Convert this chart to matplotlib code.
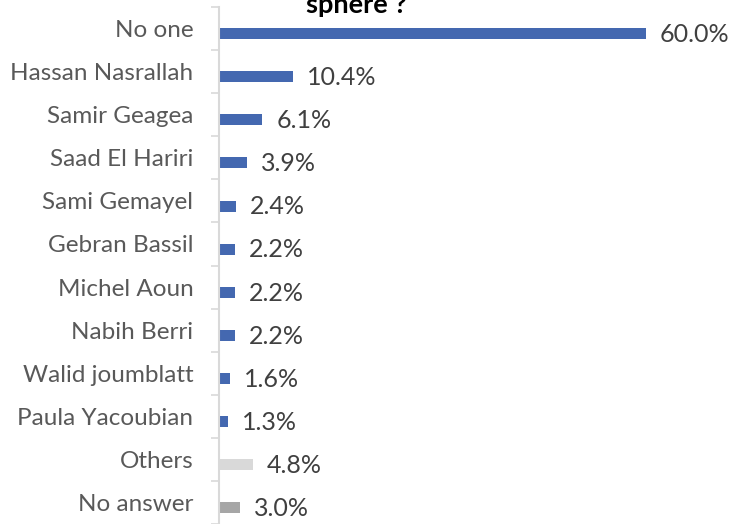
import matplotlib
matplotlib.use("Agg")
import matplotlib.pyplot as plt
import numpy as np

# who is trusted most - share of respondents
people = ["No one", "Hassan Nasrallah", "Samir Geagea", "Saad El Hariri",
          "Sami Gemayel", "Gebran Bassil", "Michel Aoun", "Nabih Berri",
          "Walid joumblatt", "Paula Yacoubian", "Others", "No answer"]
share = [60.0, 10.4, 6.1, 3.9, 2.4, 2.2, 2.2, 2.2, 1.6, 1.3, 4.8, 3.0]
colors = ["#4468B0"] * 10 + ["#D9D9D9", "#A6A6A6"]

plt.rcParams["font.family"] = ["Lato", "DejaVu Sans"]

fig = plt.figure(figsize=(7.38, 5.24), dpi=100)
ax = fig.add_axes([219 / 738, 0, 498 / 738, 1 - 7 / 524])

y = np.arange(len(people))
off = 0.12
ax.barh(y + off, share, height=0.255, color=colors)

for yi, v in zip(y, share):
    ax.annotate("%.1f%%" % v, (v, yi + off + 0.02), xytext=(10, 0),
                textcoords="offset points", va="center", ha="left",
                fontsize=18, color="#404040")

ax.set_xlim(0, 70)
ax.set_ylim(len(people) - 0.5, -0.5)

ax.set_yticks(y)
ax.set_yticklabels(people, fontsize=17.5, color="#595959")
ax.set_yticks(np.arange(-0.5, len(people)), minor=True)
ax.tick_params(axis="y", which="major", length=0, pad=18.5)
ax.tick_params(axis="y", which="minor", length=6, width=1.2, color="#D9D9D9")
ax.set_xticks([])

for s in ["top", "right", "bottom"]:
    ax.spines[s].set_visible(False)
ax.spines["left"].set_color("#D9D9D9")
ax.spines["left"].set_linewidth(1.5)

fig.text(356 / 738, 1 - 13 / 524, "sphere ?", ha="center", va="baseline",
         fontsize=19.5, fontweight="bold", color="black")

fig.savefig("out.png", dpi=100)
